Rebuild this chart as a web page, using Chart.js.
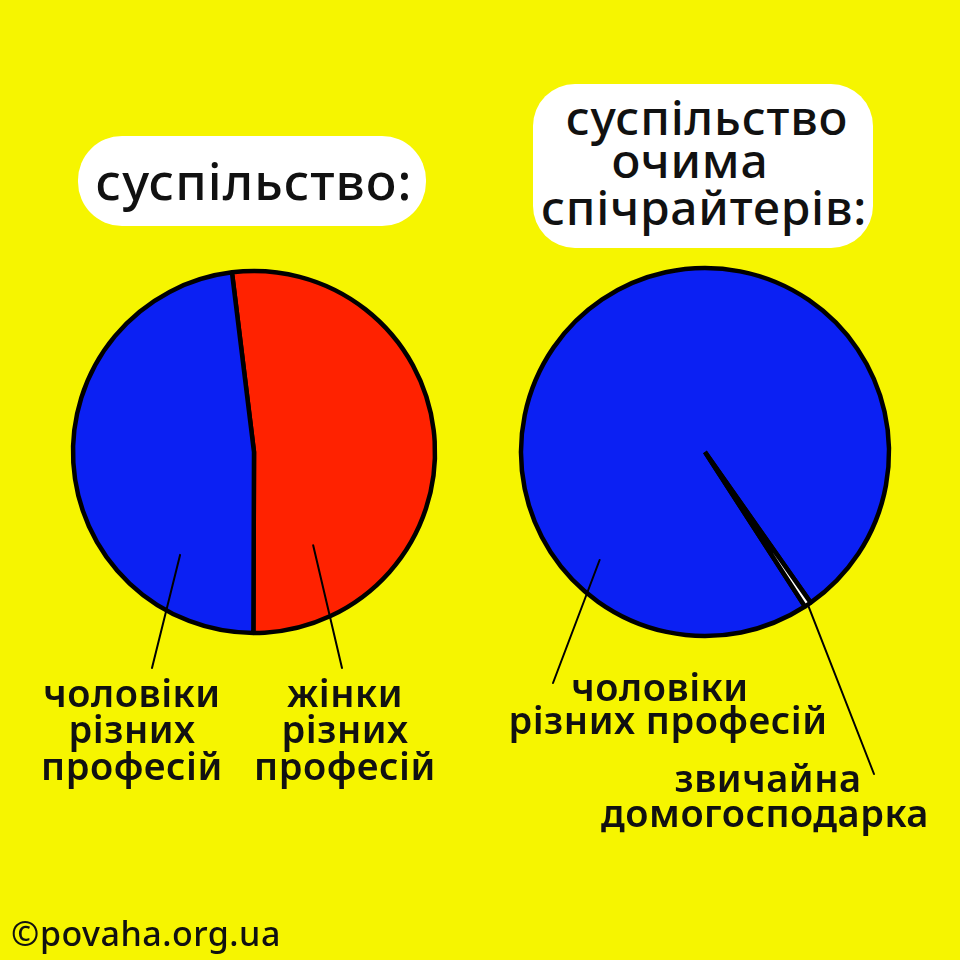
<!DOCTYPE html>
<html>
<head>
<meta charset="utf-8">
<script src="https://cdn.jsdelivr.net/npm/chart.js@4"></script>
<style>
  html, body { margin: 0; padding: 0; }
  body { width: 960px; height: 960px; background: #f6f500; position: relative; overflow: hidden;
         font-family: "Noto Sans", sans-serif; color: #111; }
  canvas { position: absolute; }
  .pill { position: absolute; background: #fff; border-radius: 44px; }
  .t { position: absolute; transform: translate(-50%, -50%); white-space: nowrap; font-weight: 500; }
  .title { font-size: 51px; letter-spacing: 1px; }
  .title2 { font-size: 48px; letter-spacing: 0.8px; }
  .lbl { font-size: 38px; font-weight: 600; letter-spacing: 0.5px; }
</style>
</head>
<body>
<div class="pill" style="left:78px; top:136px; width:348px; height:90px;"></div>
<div class="pill" style="left:533px; top:84px; width:340px; height:164px; border-radius:42px;"></div>

<div class="t title" style="left:254px; top:180px;">суспільство:</div>
<div class="t title2" style="left:707px; top:116px;">суспільство</div>
<div class="t title2" style="left:690px; top:159px;">очима</div>
<div class="t title2" style="left:704px; top:206px;">спічрайтерів:</div>

<canvas id="leftPie" width="440" height="440" style="left:34px; top:232px;"></canvas>
<canvas id="rightPie" width="440" height="440" style="left:485px; top:232px;"></canvas>
<canvas id="leaders" width="960" height="960" style="left:0; top:0; pointer-events:none;"></canvas>

<div class="t lbl" style="left:132px; top:692px;">чоловіки</div>
<div class="t lbl" style="left:132px; top:728px;">різних</div>
<div class="t lbl" style="left:132px; top:765px;">професій</div>

<div class="t lbl" style="left:345px; top:692px;">жінки</div>
<div class="t lbl" style="left:345px; top:728px;">різних</div>
<div class="t lbl" style="left:345px; top:765px;">професій</div>

<div class="t lbl" style="left:660px; top:686px;">чоловіки</div>
<div class="t lbl" style="left:668px; top:719px;">різних професій</div>

<div class="t lbl" style="left:768px; top:777px;">звичайна</div>
<div class="t lbl" style="left:765px; top:812px;">домогосподарка</div>

<div class="t lbl" style="left:146px; top:933px; font-size:34px; font-weight:500;">©povaha.org.ua</div>

<script>
// society: women vs men (percent)
const societyLabels = ['жінки різних професій', 'чоловіки різних професій'];
const societyValues = [52, 48];
const societyColors = ['#ff2200', '#0b20f3'];

// society as seen by speechwriters
const writersLabels = ['чоловіки різних професій', 'звичайна домогосподарка'];
const writersValues = [99.4, 0.6];
const writersColors = ['#0b20f3', '#ffffff'];

const charts = {};

function makePie(id, labels, values, colors, radius, rotation) {
  const ctx = document.getElementById(id).getContext('2d');
  return new Chart(ctx, {
    type: 'pie',
    data: {
      labels: labels,
      datasets: [{
        data: values,
        backgroundColor: colors,
        borderColor: '#000',
        borderWidth: 4.5
      }]
    },
    options: {
      responsive: false,
      animation: false,
      radius: radius,
      rotation: rotation,
      layout: { padding: 0 },
      plugins: { legend: { display: false }, tooltip: { enabled: false } }
    }
  });
}

charts.left = makePie('leftPie', societyLabels, societyValues, societyColors, 181, -7);
charts.right = makePie('rightPie', writersLabels, writersValues, writersColors, 184, 147.1);

// leader lines: angle clockwise from 12 o'clock, fraction of radius, label end point
const leaders = [
  { chart: 'left', index: 1, angle: 215.7, frac: 0.70, to: [152, 668] },
  { chart: 'left', index: 0, angle: 147.6, frac: 0.61, to: [342, 668] },
  { chart: 'right', index: 0, angle: 224.3, frac: 0.82, to: [553, 683] },
  { chart: 'right', index: 1, angle: null, frac: 1.0, to: [874, 774] }
];

function drawLeaders() {
  const lc = document.getElementById('leaders').getContext('2d');
  lc.strokeStyle = '#000';
  lc.lineWidth = 2;
  lc.lineCap = 'round';
  leaders.forEach(l => {
    const chart = charts[l.chart];
    const arc = chart.getDatasetMeta(0).data[l.index];
    const cv = chart.canvas;
    const ox = cv.offsetLeft, oy = cv.offsetTop;
    let a;
    if (l.angle === null) {
      a = (arc.startAngle + arc.endAngle) / 2;
    } else {
      a = (l.angle - 90) * Math.PI / 180;
    }
    const r = arc.outerRadius * l.frac;
    const x = ox + arc.x + Math.cos(a) * r;
    const y = oy + arc.y + Math.sin(a) * r;
    lc.beginPath();
    lc.moveTo(x, y);
    lc.lineTo(l.to[0], l.to[1]);
    lc.stroke();
  });
}
drawLeaders();
</script>
</body>
</html>
